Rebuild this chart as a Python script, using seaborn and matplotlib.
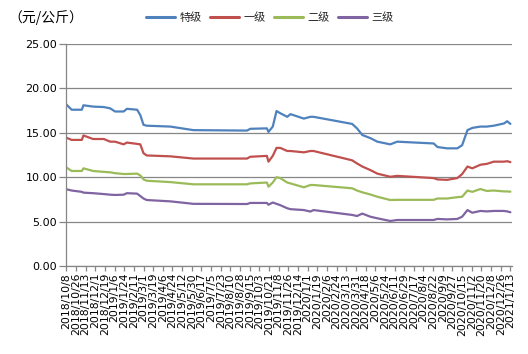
import matplotlib
matplotlib.use('Agg')
import matplotlib.pyplot as plt
from matplotlib.lines import Line2D
import seaborn as sns
import pandas as pd

# ---- data ----
dates = ['2018-10-08', '2018-10-18', '2018-11-06', '2018-11-09', '2018-11-27', '2018-12-17',
         '2018-12-29', '2019-01-07', '2019-01-23', '2019-01-29', '2019-02-17', '2019-02-23',
         '2019-03-01', '2019-03-07', '2019-04-20', '2019-06-02', '2019-09-10', '2019-09-16',
         '2019-10-17', '2019-10-20', '2019-10-28', '2019-11-04', '2019-11-11', '2019-11-24',
         '2019-11-30', '2019-12-25', '2020-01-06', '2020-01-12', '2020-03-24', '2020-04-02',
         '2020-04-12', '2020-04-27', '2020-05-10', '2020-06-03', '2020-06-16', '2020-08-23',
         '2020-08-30', '2020-09-17', '2020-10-06', '2020-10-15', '2020-10-25', '2020-11-03',
         '2020-11-18', '2020-11-30', '2020-12-13', '2021-01-01', '2021-01-07', '2021-01-13']

grades = ['特级', '一级', '二级', '三级']

special = [18.2, 17.6, 17.6, 18.1, 17.95, 17.9, 17.75, 17.4, 17.4, 17.7, 17.6, 17.0,
           15.9, 15.8, 15.7, 15.3, 15.25, 15.45, 15.5, 15.1, 15.7, 17.45, 17.2, 16.8,
           17.1, 16.6, 16.8, 16.8, 16.0, 15.5, 14.75, 14.4, 14.0, 13.7, 14.0, 13.8,
           13.4, 13.25, 13.25, 13.6, 15.3, 15.55, 15.7, 15.7, 15.8, 16.05, 16.3, 16.0]

first = [14.45, 14.2, 14.2, 14.7, 14.3, 14.3, 14.0, 14.0, 13.7, 13.9, 13.75, 13.7,
         12.7, 12.45, 12.35, 12.1, 12.1, 12.3, 12.4, 11.75, 12.4, 13.3, 13.3, 12.95,
         12.95, 12.8, 12.95, 12.95, 11.9, 11.55, 11.2, 10.8, 10.4, 10.05, 10.15, 9.9,
         9.75, 9.7, 9.9, 10.35, 11.2, 11.0, 11.4, 11.5, 11.75, 11.75, 11.8, 11.7]

second = [11.1, 10.7, 10.7, 11.0, 10.7, 10.6, 10.55, 10.45, 10.36, 10.36, 10.4, 10.2,
          9.76, 9.6, 9.45, 9.2, 9.2, 9.3, 9.4, 8.93, 9.4, 10.0, 9.9, 9.4,
          9.3, 8.86, 9.12, 9.12, 8.75, 8.5, 8.3, 8.05, 7.8, 7.43, 7.45, 7.45,
          7.6, 7.6, 7.75, 7.8, 8.5, 8.35, 8.67, 8.45, 8.5, 8.4, 8.4, 8.37]

third = [8.65, 8.5, 8.35, 8.26, 8.2, 8.1, 8.03, 8.0, 8.03, 8.2, 8.15, 7.88,
         7.6, 7.43, 7.28, 7.0, 6.98, 7.1, 7.1, 6.9, 7.15, 7.0, 6.85, 6.5,
         6.4, 6.3, 6.13, 6.3, 5.75, 5.63, 5.9, 5.55, 5.37, 5.07, 5.18, 5.18,
         5.3, 5.25, 5.3, 5.55, 6.3, 6.0, 6.2, 6.15, 6.2, 6.2, 6.15, 6.05]

tick_labels = ['2018/10/8', '2018/10/26', '2018/11/13', '2018/12/1', '2018/12/19', '2019/1/6',
               '2019/1/24', '2019/2/11', '2019/3/1', '2019/3/19', '2019/4/6', '2019/4/24',
               '2019/5/12', '2019/5/30', '2019/6/17', '2019/7/5', '2019/7/23', '2019/8/10',
               '2019/8/28', '2019/9/15', '2019/10/3', '2019/10/21', '2019/11/8', '2019/11/26',
               '2019/12/14', '2020/1/1', '2020/1/19', '2020/2/6', '2020/2/24', '2020/3/13',
               '2020/3/31', '2020/4/18', '2020/5/6', '2020/5/24', '2020/6/11', '2020/6/29',
               '2020/7/17', '2020/8/4', '2020/8/22', '2020/9/9', '2020/9/27', '2020/10/15',
               '2020/11/2', '2020/11/20', '2020/12/8', '2020/12/26', '2021/1/13']

y_ticks = [0, 5, 10, 15, 20, 25]
colors = ['#4F81BD', '#C0504D', '#9BBB59', '#8064A2']

# ---- build long table ----
series = [special, first, second, third]
frames = []
for g, vals in zip(grades, series):
    frames.append(pd.DataFrame({'date': pd.to_datetime(dates), 'price': vals, 'grade': g}))
df = pd.concat(frames, ignore_index=True)

sns.set_theme(style='white')
plt.rcParams['font.family'] = ['DejaVu Sans', 'Noto Sans CJK SC']

W, H = 528, 354
fig = plt.figure(figsize=(W / 100, H / 100), dpi=100)
ax = fig.add_axes([66 / W, 1 - 266 / H, (512 - 66) / W, (266 - 44) / H])

sns.lineplot(data=df, x='date', y='price', hue='grade', hue_order=grades,
             palette=colors, linewidth=1.6, estimator=None, legend=False, ax=ax)

grid_c = '#868686'
ax.set_ylim(0, 25)
ax.set_yticks(y_ticks)
ax.set_yticklabels([f'{v:.2f}' for v in y_ticks], fontsize=8, color='black')
ax.yaxis.grid(True, color=grid_c, linewidth=0.9)
ax.xaxis.grid(False)
ax.set_axisbelow(True)

tick_pos = pd.to_datetime(tick_labels, format='%Y/%m/%d')
ax.set_xticks(tick_pos)
ax.set_xticklabels(tick_labels, rotation=90, fontsize=7.8, color='black')
ax.set_xlim(pd.Timestamp('2018-10-07 12:00'), pd.Timestamp('2021-01-16'))

ax.tick_params(axis='y', which='major', length=5, width=0.9, color=grid_c, pad=1.5, left=True)
ax.tick_params(axis='x', which='major', length=3.5, width=0.9, color=grid_c, pad=1.5, bottom=True)

for s in ['top', 'right']:
    ax.spines[s].set_visible(False)
for s in ['left', 'bottom']:
    ax.spines[s].set_color(grid_c)
    ax.spines[s].set_linewidth(0.9)

ax.set_xlabel('')
ax.set_ylabel('')

fig.text(8 / W, 1 - 18 / H, '（元/公斤）', fontsize=10, va='center', ha='left',
         family=['Noto Sans CJK SC', 'DejaVu Sans'], color='black')

handles = [Line2D([0], [0], color=c, linewidth=2.2) for c in colors]
fig.legend(handles, grades, loc='center', bbox_to_anchor=(270 / W, 1 - 18 / H), ncol=4,
           frameon=False, prop={'family': 'Noto Sans CJK SC', 'size': 8},
           handlelength=2.6, handletextpad=0.45, columnspacing=0.7)

fig.savefig('out.png', dpi=100)
